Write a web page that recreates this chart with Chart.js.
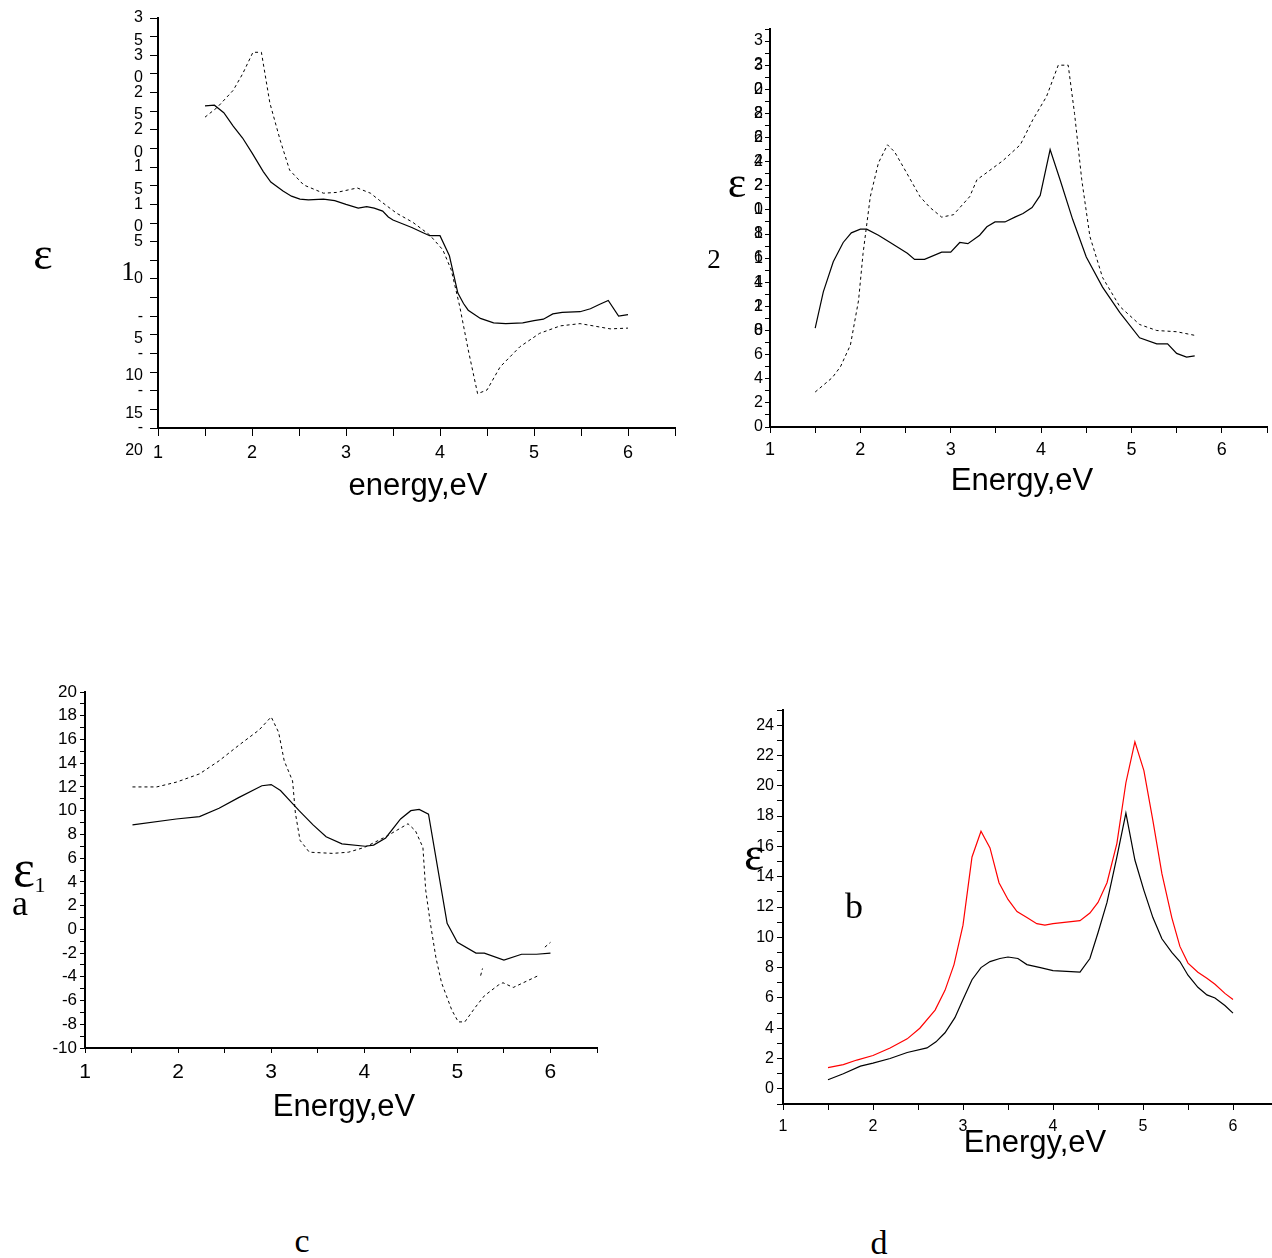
<!DOCTYPE html>
<html>
<head>
<meta charset="utf-8">
<script src="https://cdn.jsdelivr.net/npm/chart.js@4.4.1/dist/chart.umd.min.js"></script>
<style>
    body { margin: 0; width: 1272px; height: 1258px; background: #fff; overflow: hidden; position: relative; }
    .panel { position: absolute; }
    .lbl { position: absolute; transform: translate(-50%, -50%); line-height: 1; white-space: nowrap; color: #000; }
    .serif { font-family: "Liberation Serif", "Times New Roman", serif; }
    .sans { font-family: Arial, "Liberation Sans", sans-serif; }
</style>
</head>
<body>
<div class="panel" style="left:0px;top:0px"><canvas id="chartA" width="700" height="480"></canvas></div>
<div class="panel" style="left:700px;top:0px"><canvas id="chartB" width="572" height="480"></canvas></div>
<div class="panel" style="left:0px;top:660px"><canvas id="chartC" width="640" height="440"></canvas></div>
<div class="panel" style="left:700px;top:690px"><canvas id="chartD" width="580" height="450"></canvas></div>

<script>
// panel A: eps1, top left
const energyA1 = [1.5, 1.6, 1.7, 1.8, 1.9, 2.0, 2.12, 2.2, 2.33, 2.42, 2.51, 2.6, 2.76, 2.88, 3.0, 3.13, 3.22, 3.3, 3.39, 3.45, 3.5, 3.6, 3.7, 3.82, 3.89, 4.0, 4.1, 4.19, 4.25, 4.3, 4.43, 4.57, 4.7, 4.88, 5.0, 5.1, 5.2, 5.3, 5.49, 5.6, 5.7, 5.79, 5.9, 6.0];
const epsA1 = [23.2, 23.3, 22.3, 20.5, 18.9, 16.9, 14.4, 13.0, 11.8, 11.1, 10.7, 10.6, 10.7, 10.5, 10.0, 9.5, 9.7, 9.5, 9.1, 8.3, 7.9, 7.4, 6.9, 6.2, 5.8, 5.8, 3.1, -1.9, -3.3, -4.2, -5.3, -5.9, -6.0, -5.9, -5.6, -5.4, -4.7, -4.5, -4.4, -4.0, -3.4, -2.9, -5.0, -4.8];
const energyA2 = [1.5, 1.63, 1.8, 1.9, 2.01, 2.1, 2.19, 2.3, 2.4, 2.55, 2.76, 2.9, 3.12, 3.26, 3.36, 3.54, 3.71, 3.89, 4.03, 4.12, 4.21, 4.3, 4.4, 4.5, 4.64, 4.85, 5.06, 5.28, 5.49, 5.63, 5.81, 6.0];
const epsA2 = [21.7, 23.0, 25.3, 27.5, 30.4, 30.4, 23.6, 18.6, 14.6, 12.6, 11.5, 11.6, 12.2, 11.5, 10.5, 8.8, 7.6, 5.9, 3.9, 1.2, -3.7, -9.5, -15.4, -14.9, -11.8, -9.1, -7.3, -6.3, -6.0, -6.3, -6.7, -6.6];

// panel B: eps2, top right
const energyB1 = [1.5, 1.59, 1.7, 1.81, 1.9, 2.0, 2.07, 2.2, 2.33, 2.52, 2.6, 2.71, 2.9, 3.0, 3.1, 3.19, 3.32, 3.4, 3.49, 3.6, 3.71, 3.8, 3.9, 3.99, 4.1, 4.21, 4.35, 4.5, 4.68, 4.87, 5.09, 5.28, 5.4, 5.5, 5.61, 5.7];
const epsB1 = [8.2, 11.2, 13.7, 15.3, 16.1, 16.4, 16.4, 15.9, 15.3, 14.4, 13.9, 13.9, 14.5, 14.5, 15.3, 15.2, 15.9, 16.6, 17.0, 17.0, 17.4, 17.7, 18.2, 19.2, 23.0, 20.5, 17.2, 14.1, 11.6, 9.5, 7.4, 6.9, 6.9, 6.1, 5.8, 5.9];
const energyB2 = [1.5, 1.69, 1.78, 1.89, 1.98, 2.03, 2.11, 2.2, 2.3, 2.38, 2.51, 2.66, 2.77, 2.9, 3.03, 3.21, 3.29, 3.4, 3.58, 3.77, 3.91, 4.06, 4.19, 4.3, 4.37, 4.45, 4.54, 4.68, 4.87, 5.09, 5.28, 5.5, 5.7];
const epsB2 = [2.9, 4.1, 5.0, 6.8, 10.5, 14.4, 19.1, 21.9, 23.4, 22.8, 21.1, 19.1, 18.2, 17.4, 17.6, 19.1, 20.5, 21.1, 22.1, 23.4, 25.5, 27.4, 30.0, 30.0, 26.0, 20.5, 15.8, 12.4, 10.0, 8.5, 8.0, 7.9, 7.6];

// panel C: eps1, bottom left
const energyC1 = [1.51, 1.98, 2.23, 2.44, 2.65, 2.9, 3.0, 3.1, 3.23, 3.3, 3.45, 3.59, 3.76, 4.01, 4.1, 4.23, 4.39, 4.5, 4.59, 4.69, 4.89, 5.0, 5.2, 5.29, 5.5, 5.69, 5.85, 6.0];
const epsC1 = [8.8, 9.3, 9.5, 10.2, 11.1, 12.1, 12.2, 11.7, 10.6, 10.0, 8.8, 7.8, 7.2, 7.0, 7.1, 7.7, 9.3, 10.0, 10.1, 9.7, 0.5, -1.1, -2.0, -2.0, -2.6, -2.1, -2.1, -2.0];
const energyC2 = [1.51, 1.77, 1.98, 2.23, 2.44, 2.65, 2.87, 3.0, 3.08, 3.14, 3.23, 3.26, 3.31, 3.41, 3.66, 3.83, 4.0, 4.23, 4.47, 4.55, 4.63, 4.66, 4.71, 4.77, 4.83, 4.94, 5.01, 5.08, 5.19, 5.29, 5.44, 5.49, 5.6, 5.87];
const epsC2 = [12.0, 12.0, 12.4, 13.1, 14.2, 15.5, 16.8, 17.9, 16.6, 14.2, 12.5, 9.8, 7.5, 6.5, 6.4, 6.5, 6.9, 7.8, 8.9, 8.3, 6.9, 3.3, 0.5, -2.4, -4.5, -6.8, -7.8, -7.8, -6.6, -5.6, -4.7, -4.5, -4.9, -3.9];
const energyC3 = [5.25, 5.27, 5.6, 5.94, 6.0];
const epsC3 = [-3.9, -3.3, null, -1.5, -1.1];

// panel D: eps2, bottom right
const energyD = [1.5, 1.67, 1.82, 2.0, 2.19, 2.38, 2.52, 2.69, 2.8, 2.9, 3.0, 3.1, 3.2, 3.3, 3.4, 3.5, 3.6, 3.71, 3.82, 3.91, 4.0, 4.3, 4.41, 4.5, 4.6, 4.71, 4.81, 4.91, 5.01, 5.11, 5.21, 5.32, 5.41, 5.5, 5.61, 5.71, 5.8, 5.91, 6.0];
const epsDred = [1.4, 1.6, 1.9, 2.2, 2.7, 3.3, 4.0, 5.2, 6.5, 8.2, 10.8, 15.3, 17.0, 15.9, 13.6, 12.5, 11.7, 11.3, 10.9, 10.8, 10.9, 11.1, 11.6, 12.3, 13.6, 16.2, 20.2, 22.9, 21.0, 17.7, 14.2, 11.3, 9.4, 8.3, 7.7, 7.3, 6.9, 6.3, 5.9];
const energyDb = [1.5, 1.67, 1.86, 2.0, 2.19, 2.38, 2.6, 2.7, 2.8, 2.91, 3.0, 3.1, 3.2, 3.3, 3.41, 3.5, 3.61, 3.71, 3.86, 4.0, 4.3, 4.41, 4.5, 4.6, 4.71, 4.81, 4.91, 5.01, 5.11, 5.21, 5.32, 5.41, 5.5, 5.61, 5.71, 5.8, 5.91, 6.0];
const epsDblack = [0.6, 1.0, 1.5, 1.7, 2.0, 2.4, 2.7, 3.1, 3.7, 4.7, 5.9, 7.2, 8.0, 8.4, 8.6, 8.7, 8.6, 8.2, 8.0, 7.8, 7.7, 8.6, 10.3, 12.3, 15.3, 18.2, 15.1, 13.1, 11.3, 9.9, 9.0, 8.4, 7.5, 6.7, 6.2, 6.0, 5.5, 5.0];

function pts(xs, ys) {
    return xs.map((x, i) => ({ x: x, y: ys[i] }));
}

function isInt(v) {
    return Math.abs(v - Math.round(v)) < 1e-6;
}

// the original tick labels wrap: first char on the tick, the rest one line lower
function wrapLabel(v) {
    let s = String(Math.abs(Math.round(v)));
    if (v < 0) return ['', '-', s];
    if (s.length === 1) return s;
    return ['', s[0], s.slice(1)];
}

function solid(data, color) {
    return { data: data, borderColor: color || '#000', borderWidth: 1.2, pointRadius: 0, tension: 0, fill: false, spanGaps: false };
}

function dashed(data) {
    return { data: data, borderColor: '#000', borderWidth: 1, borderDash: [3, 3], pointRadius: 0, tension: 0, fill: false, spanGaps: false };
}

function axisX(o) {
    return {
        type: 'linear', min: 1, max: 6.5,
        afterFit: function (scale) {
            scale.height = o.h;
            scale.paddingLeft = 0;
            scale.paddingRight = 0;
        },
        border: { display: true, color: '#000', width: 2 },
        grid: { drawOnChartArea: false, drawTicks: true, tickLength: o.tl, color: '#000', tickColor: '#000' },
        ticks: {
            stepSize: 0.5, autoSkip: false, maxRotation: 0, color: '#000', padding: o.pad,
            font: { family: 'Arial, "Liberation Sans", sans-serif', size: o.fs },
            callback: function (v) { return isInt(v) && v < 6.5 ? String(Math.round(v)) : ''; }
        }
    };
}

function axisY(o) {
    return {
        type: 'linear', min: o.min, max: o.max,
        afterFit: function (scale) {
            scale.width = o.w;
            scale.paddingTop = 0;
            scale.paddingBottom = 0;
        },
        border: { display: true, color: '#000', width: 2 },
        grid: { drawOnChartArea: false, drawTicks: true, tickLength: o.tl, color: '#000', tickColor: '#000' },
        ticks: {
            stepSize: o.step, autoSkip: false, color: '#000', padding: o.pad,
            font: { family: 'Arial, "Liberation Sans", sans-serif', size: o.fs, lineHeight: o.lh || 1.2 },
            callback: o.cb
        }
    };
}

function makeChart(id, datasets, pad, xOpt, yOpt) {
    return new Chart(document.getElementById(id), {
        type: 'line',
        data: { datasets: datasets },
        options: {
            responsive: false,
            animation: false,
            layout: { autoPadding: false, padding: pad },
            plugins: { legend: { display: false }, tooltip: { enabled: false } },
            scales: { x: axisX(xOpt), y: axisY(yOpt) }
        }
    });
}

makeChart('chartA',
    [solid(pts(energyA1, epsA1)), dashed(pts(energyA2, epsA2))],
    { left: 0, top: 18, right: 25, bottom: 0 },
    { h: 52, tl: 8, pad: 6, fs: 18 },
    { min: -20, max: 35, step: 2.5, w: 158, tl: 8, pad: 7, fs: 16, lh: 1.4,
      cb: function (v) { return isInt(v / 5) ? wrapLabel(v) : ''; } });

makeChart('chartB',
    [solid(pts(energyB1, epsB1)), dashed(pts(energyB2, epsB2))],
    { left: 0, top: 29, right: 5, bottom: 0 },
    { h: 53, tl: 6, pad: 6, fs: 18 },
    { min: 0, max: 33, step: 1, w: 70, tl: 5, pad: 2, fs: 16, lh: 1.5,
      cb: function (v) { return isInt(v / 2) ? wrapLabel(v) : ''; } });

makeChart('chartC',
    [solid(pts(energyC1, epsC1)), dashed(pts(energyC2, epsC2)), dashed(pts(energyC3, epsC3))],
    { left: 0, top: 32, right: 43, bottom: 0 },
    { h: 52, tl: 5, pad: 7, fs: 21 },
    { min: -10, max: 20, step: 1, w: 85, tl: 5, pad: 3, fs: 17,
      cb: function (v) { return isInt(v / 2) ? String(Math.round(v)) : ''; } });

makeChart('chartD',
    [solid(pts(energyD, epsDred), '#ff0000'), solid(pts(energyDb, epsDblack))],
    { left: 0, top: 20, right: 2, bottom: 0 },
    { h: 36, tl: 6, pad: 7, fs: 16 },
    { min: -1, max: 25, step: 1, w: 83, tl: 6, pad: 3, fs: 16,
      cb: function (v) { return isInt(v / 2) && v >= 0 ? String(Math.round(v)) : ''; } });

// axis symbols and panel letters
function addText(text, x, y, size, cls) {
    let el = document.createElement('div');
    el.className = 'lbl ' + cls;
    el.style.left = x + 'px';
    el.style.top = y + 'px';
    el.style.fontSize = size + 'px';
    el.textContent = text;
    document.body.append(el);
}

addText('ε', 43, 254, 46, 'serif');
addText('1', 128, 271, 27, 'serif');
addText('energy,eV', 418, 484, 31, 'sans');

addText('ε', 737, 183, 44, 'serif');
addText('2', 714, 259, 27, 'serif');
addText('Energy,eV', 1022, 479, 31, 'sans');

addText('ε', 24, 869, 52, 'serif');
addText('1', 40, 885, 22, 'serif');
addText('a', 20, 903, 36, 'serif');
addText('Energy,eV', 344, 1105, 31, 'sans');

addText('ε', 754, 854, 48, 'serif');
addText('b', 854, 906, 36, 'serif');
addText('Energy,eV', 1035, 1141, 31, 'sans');

addText('c', 302, 1241, 34, 'serif');
addText('d', 879, 1243, 34, 'serif');
</script>
</body>
</html>
